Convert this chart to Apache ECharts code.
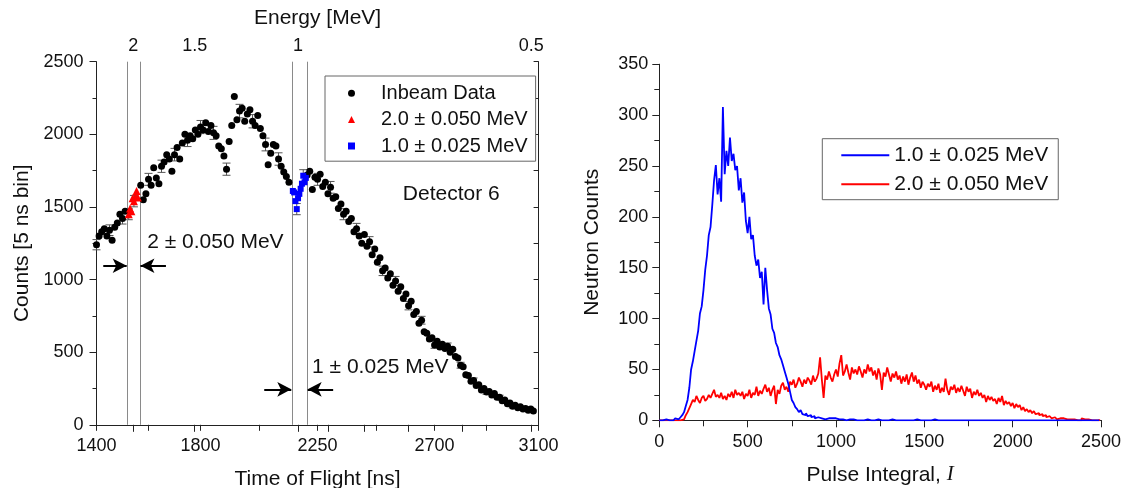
<!DOCTYPE html>
<html><head><meta charset="utf-8">
<script src="https://cdn.jsdelivr.net/npm/echarts@6/dist/echarts.min.js"></script>
<style>html,body{margin:0;padding:0;background:#fff}#c{width:1124px;height:488px}</style>
</head><body><div id="c"></div>
<script>
const FONT = '"Liberation Sans", Arial, Helvetica, sans-serif';
const TXT = '#111';

// ---------- Left panel: time-of-flight spectrum ----------
const tofStart = 1400, tofStep = 10;
const inbeamCounts = [
  1240,1300,1330,1350,1300,1340,1270,1360,1390,1450,
  1420,1470,null,null,null,null,null,1650,1550,1590,
  1690,1650,1770,1700,1660,1780,1810,1860,1830,1745,
  1860,1910,1830,1940,2000,1960,1990,1970,2030,2000,
  2050,2030,2080,2020,2060,2010,1990,1920,1900,1850,
  1760,1950,2060,2260,2100,2160,2180,2090,2140,2170,
  2090,2060,2130,2040,1990,1930,1790,1870,1930,1920,
  1830,1780,1740,1710,1670,null,null,null,null,null,
  null,1720,1745,1620,1705,1690,1725,1640,1670,1590,
  1635,1560,1570,1490,1520,1450,1470,1400,1420,1330,
  1350,1300,1250,1310,1230,1260,1170,1210,1120,1150,
  1060,1080,1010,1040,960,990,920,950,870,900,
  820,850,760,780,700,720,640,630,590,600,
  550,575,535,555,525,540,500,520,470,460,
  410,400,345,340,300,305,270,275,240,250,
  225,230,205,215,190,190,165,170,145,150,
  128,135,118,125,108,112,100,108,95
];
const win2Tof = [1524,1529,1534,1539,1544,1549,1554,1559];
const win2Counts = [1450,1490,1470,1560,1540,1570,1610,1565];
const win1Tof = [2155,2160,2165,2170,2175,2180,2185,2190,2195,2200,2205];
const win1Counts = [1610,1600,1540,1485,1560,1590,1625,1660,1715,1670,1700];
const windowLines = [1518, 1567, 2151, 2210];
const tofTickValues = [1400,1600,1800,2025,2250,2475,2700,2900,3100];
const tofLabelValues = [1400,1800,2250,2700,3100];
const energyTicks = [2, 1.5, 1, 0.9, 0.8, 0.7, 0.6, 0.5];
const energyLabels = [2, 1.5, 1, 0.5];
// energy -> time-of-flight calibration: t = T0 + K / sqrt(E)
const T0 = 10, K = 2165;

// ---------- Right panel: pulse-integral histograms ----------
const binStart = 0, binWidth = 10;
const hist1MeV = [
  0,0,0,1,0,0,1,0,1,2,
  1,2,3,5,8,14,20,32,50,58,
  68,78,88,105,112,128,148,162,182,190,
  212,236,251,222,238,215,308,242,265,250,
  278,255,262,246,250,226,238,214,224,196,
  184,200,178,182,162,152,158,140,146,114,
  150,128,110,104,90,86,76,72,64,60,
  54,48,42,36,28,20,17,13,11,8,
  10,6,5,7,4,5,3,4,2,3,
  4,2,3,1,2,2,1,2,1,2,
  1,1,2,1,1,0,1,1,0,1,
  1,0,1,0,1,0,0,1,0,0,
  1,0,0,1,0,0,1,0,0,0,
  0,1,0,0,0,0,0,0,0,0,
  0,0,0,0,0,1,0,0,0,0,
  0,0,0,0,0,1,0,0,0,0,
  0,0,0,0,0,0,0,0,0,0,
  0,0,0,0,0,0,0,0,0,0,
  0,0,0,0,0,0,0,0,0,0,
  0,0,0,0,0,0,0,0,0,0,
  0,0,0,0,0,0,0,0,0,0,
  0,0,0,0,0,0,0,0,0,0,
  0,0,0,0,0,0,0,0,0,0,
  0,0,0,0,0,0,0,0,0,0,
  0,0,0,0,0,0,0,0,0,0
];
const hist2MeV = [
  0,0,0,0,0,0,0,0,0,0,
  0,0,1,1,2,5,8,12,16,20,
  18,24,20,17,22,24,19,21,25,22,
  26,30,23,25,22,27,21,24,20,26,
  23,28,22,30,25,27,24,28,21,26,
  24,30,22,27,25,33,24,29,26,31,
  35,28,32,24,30,34,16,30,26,34,
  37,30,33,28,38,35,40,32,36,42,
  38,33,40,36,42,39,35,44,38,41,
  46,62,40,22,44,40,48,42,38,45,
  50,43,56,64,44,48,55,47,40,52,
  46,50,45,53,48,42,50,46,55,48,
  52,44,49,40,51,45,30,47,43,52,
  45,38,46,42,48,40,44,36,43,38,
  45,35,42,47,38,44,36,40,32,38,
  35,30,36,33,38,28,34,30,36,27,
  32,28,41,30,25,33,30,35,27,32,
  28,34,29,24,33,28,31,22,28,25,
  30,24,27,22,25,18,24,20,23,19,
  21,16,22,18,24,15,19,16,18,14,
  17,12,16,13,15,10,13,9,11,8,
  10,7,9,6,7,5,6,4,5,3,
  4,3,2,3,2,1,2,1,2,1,
  1,0,1,0,1,2,0,1,0,2,
  1,0,1,0,0,1,0,0,0,1
];

const LABELS = {
  inbeam: 'Inbeam Data',
  win2: '2.0 \u00b1 0.050 MeV',
  win1: '1.0 \u00b1 0.025 MeV',
  h1: '1.0 \u00b1 0.025 MeV',
  h2: '2.0 \u00b1 0.050 MeV'
};

function tofOfEnergy(E) { return T0 + K / Math.sqrt(E); }

const inbeamData = [];
const errData = [];
inbeamCounts.forEach((v, i) => {
  if (v === null) return;
  const t = tofStart + i * tofStep;
  inbeamData.push([t, v]);
  if (i % 5 === 0) errData.push([t, v, Math.sqrt(v)]);
});
const win2Data = win2Tof.map((t, i) => [t, win2Counts[i]]);
const win1Data = win1Tof.map((t, i) => [t, win1Counts[i]]);
[[win2Tof, win2Counts, [0, 4]], [win1Tof, win1Counts, [3, 8]]].forEach(([ts, cs, idx]) => {
  idx.forEach(i => errData.push([ts[i], cs[i], Math.sqrt(cs[i])]));
});
const h1Data = hist1MeV.map((c, i) => [binStart + i * binWidth, c]);
const h2Data = hist2MeV.map((c, i) => [binStart + i * binWidth, c]);

const axisLineStyle = { show: true, lineStyle: { color: '#222', width: 1 } };
const plain = v => String(v);
const labelStyle = { color: TXT, fontSize: 18, fontFamily: FONT };
const nameStyle = { color: TXT, fontSize: 21, fontFamily: FONT };

const chart = echarts.init(document.getElementById('c'), null, { renderer: 'canvas' });

const option = {
  animation: false,
  backgroundColor: '#fff',
  textStyle: { fontFamily: FONT },
  grid: [
    { left: 96.5, top: 61.7, width: 442.1, height: 363.1, containLabel: false, outerBoundsMode: 'none' },
    { left: 659.3, top: 64.3, width: 441.7, height: 356, containLabel: false, outerBoundsMode: 'none' }
  ],
  xAxis: [
    { gridIndex: 0, type: 'value', min: 1400, max: 3100, position: 'bottom',
      axisLine: axisLineStyle, splitLine: { show: false },
      axisTick: { show: true, inside: false, length: 6, customValues: tofTickValues, lineStyle: { color: '#222' } },
      axisLabel: { customValues: tofLabelValues, margin: 12, formatter: plain, ...labelStyle },
      name: 'Time of Flight [ns]', nameLocation: 'middle', nameGap: 44, nameTextStyle: nameStyle },
    { gridIndex: 0, type: 'value', min: 1400, max: 3100, position: 'top',
      axisLine: axisLineStyle, splitLine: { show: false },
      axisTick: { show: true, inside: true, length: 7, customValues: energyTicks.map(tofOfEnergy), lineStyle: { color: '#222' } },
      axisLabel: { customValues: energyLabels.map(tofOfEnergy), margin: 7, ...labelStyle,
        formatter: v => { const e = energyLabels.find(x => Math.abs(tofOfEnergy(x) - v) < 0.5); return e === undefined ? '' : String(e); } },
      name: 'Energy [MeV]', nameLocation: 'middle', nameGap: 33, nameTextStyle: nameStyle },
    { gridIndex: 1, type: 'value', min: 0, max: 2500, interval: 500, position: 'bottom',
      axisLine: axisLineStyle, splitLine: { show: false },
      axisTick: { show: true, inside: false, length: 7, lineStyle: { color: '#222' } },
      minorTick: { show: true, splitNumber: 2, length: 4, lineStyle: { color: '#222' } },
      minorSplitLine: { show: false },
      axisLabel: { margin: 13, formatter: plain, ...labelStyle },
      name: 'Pulse Integral, {i|I}', nameLocation: 'middle', nameGap: 44,
      nameTextStyle: { ...nameStyle, rich: { i: { fontFamily: '"Liberation Serif", "Times New Roman", serif', fontStyle: 'italic', fontSize: 21, color: TXT } } } },
    { gridIndex: 1, type: 'value', min: 0, max: 2500, interval: 250, position: 'top',
      axisLine: axisLineStyle, splitLine: { show: false },
      axisTick: { show: true, inside: true, length: 6, lineStyle: { color: '#222' } },
      axisLabel: { show: false } }
  ],
  yAxis: [
    { gridIndex: 0, type: 'value', min: 0, max: 2500, interval: 500, position: 'left',
      axisLine: axisLineStyle, splitLine: { show: false },
      axisTick: { show: true, inside: false, length: 7, lineStyle: { color: '#222' } },
      minorTick: { show: true, splitNumber: 2, length: 4, lineStyle: { color: '#222' } },
      minorSplitLine: { show: false },
      axisLabel: { margin: 13, formatter: plain, ...labelStyle },
      name: 'Counts [5 ns bin]', nameLocation: 'middle', nameGap: 64, nameTextStyle: nameStyle },
    { gridIndex: 0, type: 'value', min: 0, max: 2500, interval: 250, position: 'right',
      axisLine: axisLineStyle, splitLine: { show: false },
      axisTick: { show: true, inside: true, length: 5, lineStyle: { color: '#222' } },
      axisLabel: { show: false } },
    { gridIndex: 1, type: 'value', min: 0, max: 350, interval: 50, position: 'left',
      axisLine: axisLineStyle, splitLine: { show: false },
      axisTick: { show: true, inside: false, length: 7, lineStyle: { color: '#222' } },
      minorTick: { show: true, splitNumber: 2, length: 4, lineStyle: { color: '#222' } },
      minorSplitLine: { show: false },
      axisLabel: { margin: 11, formatter: plain, ...labelStyle },
      name: 'Neutron Counts', nameLocation: 'middle', nameGap: 57, nameTextStyle: nameStyle },
    { gridIndex: 1, type: 'value', min: 0, max: 350, interval: 25, position: 'right',
      axisLine: axisLineStyle, splitLine: { show: false },
      axisTick: { show: true, inside: true, length: 5, lineStyle: { color: '#222' } },
      axisLabel: { show: false } }
  ],
  legend: [
    { orient: 'vertical', left: 325, top: 76, itemWidth: 7, itemHeight: 7, itemGap: 0,
      padding: [4, 8, 2, 23], borderColor: '#666', borderWidth: 1, backgroundColor: '#fff',
      data: ['inbeam', 'win2', 'win1'], formatter: n => '{s| }' + LABELS[n], selectedMode: false,
      textStyle: { fontSize: 20, lineHeight: 26.4, color: TXT, fontFamily: FONT,
        rich: { s: { width: 21, fontSize: 20, lineHeight: 26.4 } } } },
    { orient: 'vertical', left: 822.3, top: 138.7, itemWidth: 48, itemHeight: 2, itemGap: 0,
      icon: 'rect',
      padding: [2, 10, 1, 19], borderColor: '#666', borderWidth: 1, backgroundColor: '#fff',
      data: ['h1', 'h2'], formatter: n => LABELS[n], selectedMode: false,
      textStyle: { fontSize: 21, lineHeight: 29, color: TXT, fontFamily: FONT } }
  ],
  series: [
    { name: 'errbars', type: 'custom', xAxisIndex: 0, yAxisIndex: 0, silent: true, z: 1,
      data: errData, encode: { x: 0, y: 1 },
      renderItem: (params, api) => {
        const x = api.value(0), y = api.value(1), e = api.value(2);
        const a = api.coord([x, y + e]), b = api.coord([x, y - e]);
        const hw = 4, st = { stroke: '#555', lineWidth: 1 };
        return { type: 'group', children: [
          { type: 'line', shape: { x1: a[0], y1: a[1], x2: b[0], y2: b[1] }, style: st },
          { type: 'line', shape: { x1: a[0] - hw, y1: a[1], x2: a[0] + hw, y2: a[1] }, style: st },
          { type: 'line', shape: { x1: b[0] - hw, y1: b[1], x2: b[0] + hw, y2: b[1] }, style: st }
        ] };
      } },
    { name: 'inbeam', type: 'scatter', xAxisIndex: 0, yAxisIndex: 0, z: 3,
      data: inbeamData, symbol: 'circle', symbolSize: 7, itemStyle: { color: '#000', opacity: 1 },
      markLine: {
        silent: true, symbol: ['none', 'none'], z: 2,
        label: { show: false },
        lineStyle: { color: '#8a8a8a', width: 1, type: 'solid' },
        data: [
          ...windowLines.map(t => ({ xAxis: t })),
          [ { coord: [1426, 1095], symbol: 'none', lineStyle: { color: '#000', width: 2, type: 'solid' } },
            { coord: [1516, 1095], symbol: 'arrow', symbolSize: [11, 14] } ],
          [ { coord: [1667, 1095], symbol: 'none', lineStyle: { color: '#000', width: 2, type: 'solid' } },
            { coord: [1569, 1095], symbol: 'arrow', symbolSize: [11, 14] } ],
          [ { coord: [2045, 244], symbol: 'none', lineStyle: { color: '#000', width: 2, type: 'solid' } },
            { coord: [2149, 244], symbol: 'arrow', symbolSize: [11, 14] } ],
          [ { coord: [2310, 244], symbol: 'none', lineStyle: { color: '#000', width: 2, type: 'solid' } },
            { coord: [2212, 244], symbol: 'arrow', symbolSize: [11, 14] } ]
        ]
      },
      markPoint: {
        silent: true, symbol: 'circle', symbolSize: 1,
        itemStyle: { color: 'rgba(0,0,0,0)' },
        label: { show: true, position: 'right', distance: 0, formatter: '{b}', color: TXT, fontSize: 21, fontFamily: FONT },
        data: [
          { name: '2 \u00b1 0.050 MeV', coord: [1593, 1256] },
          { name: '1 \u00b1 0.025 MeV', coord: [2227, 400] },
          { name: 'Detector 6', coord: [2576, 1589] }
        ]
      } },
    { name: 'win2', type: 'scatter', xAxisIndex: 0, yAxisIndex: 0, z: 4,
      data: win2Data, symbol: 'triangle', symbolSize: 8, itemStyle: { color: '#ff0000', opacity: 1 } },
    { name: 'win1', type: 'scatter', xAxisIndex: 0, yAxisIndex: 0, z: 4,
      data: win1Data, symbol: 'rect', symbolSize: 6, itemStyle: { color: '#0000ff', opacity: 1 } },
    { name: 'h2', type: 'line', xAxisIndex: 2, yAxisIndex: 2, step: 'end', symbol: 'none', showSymbol: false,
      data: h2Data, lineStyle: { color: '#ff0000', width: 1.8 }, itemStyle: { color: '#ff0000' }, z: 2 },
    { name: 'h1', type: 'line', xAxisIndex: 2, yAxisIndex: 2, step: 'end', symbol: 'none', showSymbol: false,
      data: h1Data, lineStyle: { color: '#0000ff', width: 1.8 }, itemStyle: { color: '#0000ff' }, z: 3 }
  ]
};
chart.setOption(option);
</script>
</body></html>
